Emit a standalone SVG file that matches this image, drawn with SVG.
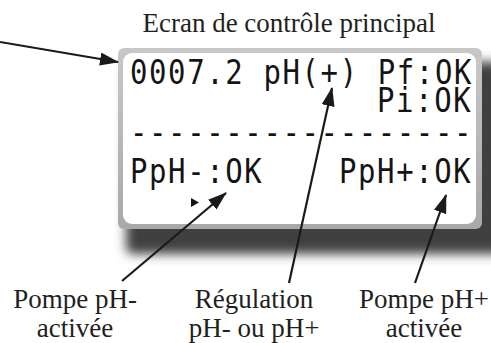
<svg xmlns="http://www.w3.org/2000/svg" width="491" height="343" viewBox="0 0 491 343">
<defs>
<style>
.lbl{font-family:"Liberation Serif","Times New Roman",serif;font-size:27px;fill:#231f20;text-anchor:middle}
.lcd{font-family:"DejaVu Sans Mono","Liberation Mono",monospace;font-size:29px;fill:#141414;letter-spacing:1.6px}
.con{stroke:#1a1a1a;stroke-width:2.2;fill:none;marker-end:url(#ah)}
</style>
<marker id="ah" markerUnits="userSpaceOnUse" markerWidth="20" markerHeight="14" refX="18" refY="6.5" orient="auto">
<path d="M0,0 L19,6.5 L0,13 z" fill="#1a1a1a"/>
</marker>
<filter id="sh" x="-20%" y="-20%" width="140%" height="150%">
<feGaussianBlur stdDeviation="5.5"/>
</filter>
<linearGradient id="bd" x1="0" y1="0" x2="0" y2="1">
<stop offset="0" stop-color="#c8c8c8"/>
<stop offset="1" stop-color="#a8a8a8"/>
</linearGradient>
</defs>
<rect width="491" height="343" fill="#ffffff"/>
<text class="lbl" x="289" y="32">Ecran de contrôle principal</text>
<g id="lcd">
<rect x="126" y="62" width="382" height="192" rx="6" fill="#404040" filter="url(#sh)"/>
<rect x="118" y="48" width="364" height="181" rx="6" fill="url(#bd)"/>
<rect x="123" y="53" width="353" height="171" rx="9" fill="#ffffff"/>
<g transform="scale(1,1.15)">
<text class="lcd" x="130" y="73">0007.2 pH(+) Pf:OK</text>
<text class="lcd" x="377" y="97.4">Pi:OK</text>
<text class="lcd" x="130" y="125">------------------</text>
<text class="lcd" x="130" y="159">PpH-:OK</text>
<text class="lcd" x="339" y="159">PpH+:OK</text>
</g>
<polygon points="191,198 191,207 199,202.5" fill="#141414"/>
</g>
<g id="connectors">
<line class="con" x1="0" y1="42" x2="118" y2="62"/>
<line class="con" x1="289" y1="283" x2="332" y2="88"/>
<line class="con" x1="122" y1="281" x2="226" y2="193"/>
<line class="con" x1="415" y1="283" x2="446" y2="195"/>
</g>
<g id="label-ph-moins">
<text class="lbl" x="75" y="308">Pompe pH-</text>
<text class="lbl" x="75" y="337">activée</text>
</g>
<g id="label-regulation">
<text class="lbl" x="254" y="308">Régulation</text>
<text class="lbl" x="254" y="337">pH- ou pH+</text>
</g>
<g id="label-ph-plus">
<text class="lbl" x="424" y="308">Pompe pH+</text>
<text class="lbl" x="424" y="337">activée</text>
</g>
</svg>
